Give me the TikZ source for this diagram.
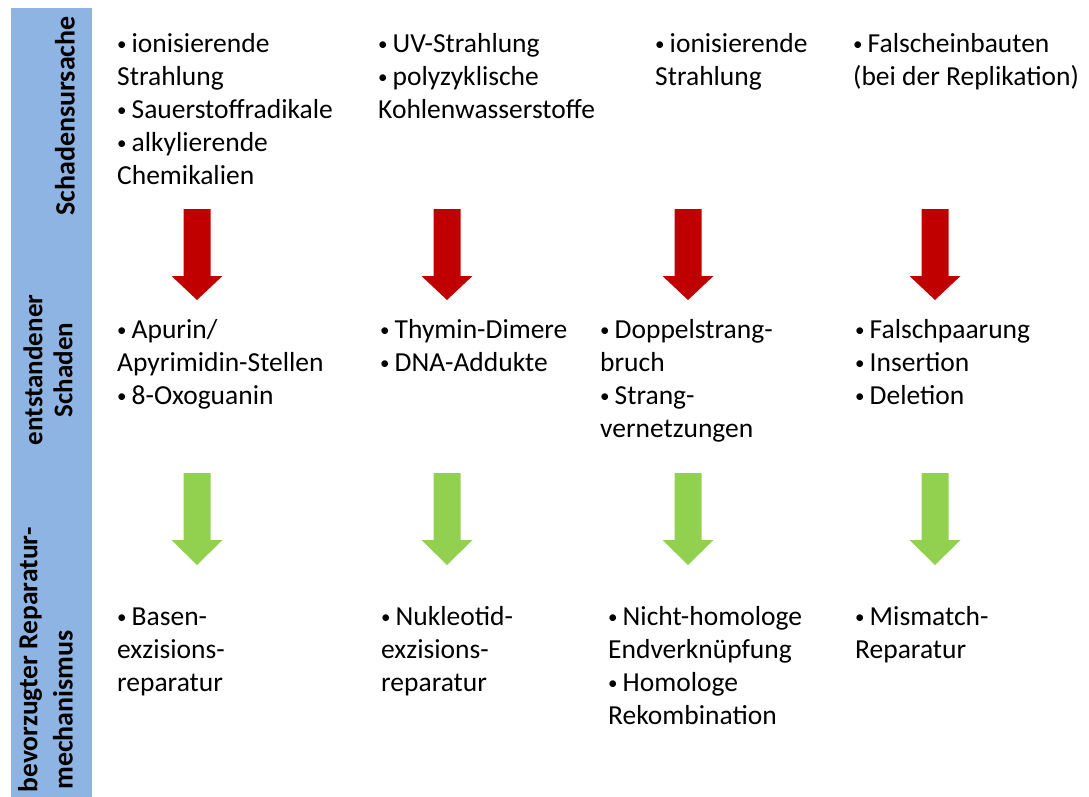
\documentclass[tikz,border=0pt]{standalone}
\usepackage{fontspec}
\setmainfont{Carlito}
\definecolor{barblue}{HTML}{8EB4E3}
\definecolor{arrred}{HTML}{C00000}
\definecolor{arrgreen}{HTML}{92D050}
\newcommand\bul{\makebox[14.5pt][l]{\fontsize{19}{33}\selectfont\raisebox{2pt}{•}}}
\begin{document}
\begin{tikzpicture}[x=1pt,y=-1pt,
  txt/.style={anchor=base west, align=left, inner sep=0pt, font=\fontsize{27.5}{33}\selectfont},
  lbl/.style={rotate=90, align=center, inner sep=0pt}]
\useasboundingbox (0,0) rectangle (1089,796);
\clip (0,0) rectangle (1089,796);
\fill[barblue] (11,8) rectangle (92,800);
\node[lbl, font=\bfseries\fontsize{28}{31}\selectfont] (l1) at (65,116) {Schadensursache};
\node[lbl, font=\bfseries\fontsize{27}{30}\selectfont] (l2) at (48,370) {entstandener\\Schaden};
\node[lbl, font=\bfseries\fontsize{27.5}{33}\selectfont] (l3a) at (30,660) {bevorzugter Reparatur-};
\node[lbl, font=\bfseries\fontsize{28}{33}\selectfont] (l3b) at (63,710) {mechanismus};
% arrows
\foreach \cx in {197,447,688,935}{
  \fill[arrred] (\cx-13.5,209) -- (\cx+13.5,209) -- (\cx+13.5,276) -- (\cx+25.5,276) -- (\cx,300) -- (\cx-25.5,276) -- (\cx-13.5,276) -- cycle;
  \fill[arrgreen] (\cx-13.5,473) -- (\cx+13.5,473) -- (\cx+13.5,540) -- (\cx+25.5,540) -- (\cx,565) -- (\cx-25.5,540) -- (\cx-13.5,540) -- cycle;
}
% row 1 (anchor = baseline of last line)
\node[txt] (a1) at (117,184) {\bul ionisierende\\Strahlung\\\bul Sauerstoffradikale\\\bul alkylierende\\Chemikalien};
\node[txt] (a2) at (378,118) {\bul UV-Strahlung\\\bul polyzyklische\\Kohlenwasserstoffe};
\node[txt] (a3) at (655,85) {\bul ionisierende\\Strahlung};
\node[txt] (a4) at (853,85) {\bul Falscheinbauten\\(bei der Replikation)};
% row 2
\node[txt] (b1) at (117,404) {\bul Apurin/\\Apyrimidin-Stellen\\\bul 8-Oxoguanin};
\node[txt] (b2) at (380,371) {\bul Thymin-Dimere\\\bul DNA-Addukte};
\node[txt] (b3) at (600,437) {\bul Doppelstrang-\\bruch\\\bul Strang-\\vernetzungen};
\node[txt] (b4) at (855,404) {\bul Falschpaarung\\\bul Insertion\\\bul Deletion};
% row 3
\node[txt] (c1) at (117,691) {\bul Basen-\\exzisions-\\reparatur};
\node[txt] (c2) at (381,691) {\bul Nukleotid-\\exzisions-\\reparatur};
\node[txt] (c3) at (608,724) {\bul Nicht-homologe\\Endverknüpfung\\\bul Homologe\\Rekombination};
\node[txt] (c4) at (855,658) {\bul Mismatch-\\Reparatur};
\end{tikzpicture}
\end{document}
